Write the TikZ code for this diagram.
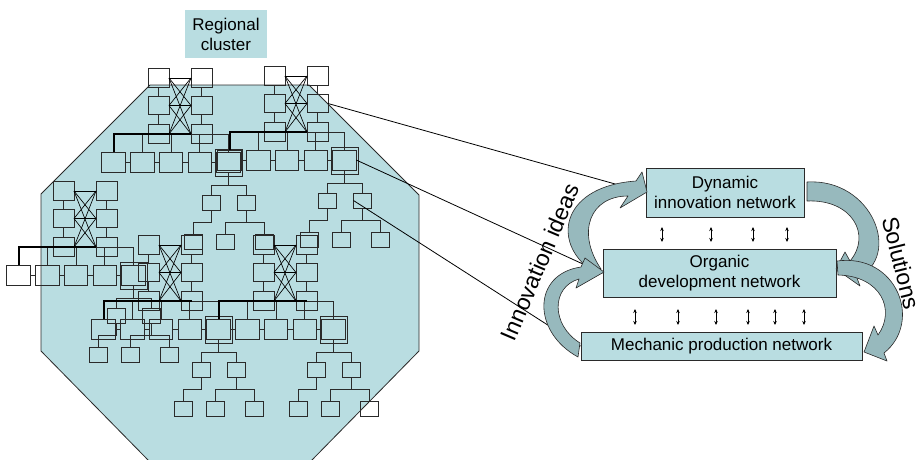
\documentclass[tikz,border=0pt]{standalone}
\usepackage{fontspec}
\setmainfont{Liberation Sans}
\usetikzlibrary{arrows.meta}
\definecolor{tealfill}{HTML}{B9DDE1}
\definecolor{arrfill}{HTML}{97B9BD}
\definecolor{ln}{HTML}{2A2A2A}
\tikzset{
  gbox/.style={draw=ln, line width=1pt, minimum width=21pt, minimum height=18.5pt, inner sep=0pt, outer sep=0pt},
  rbox/.style={gbox, minimum width=23.5pt, minimum height=20pt},
  tbox/.style={gbox, minimum width=18pt, minimum height=15pt},
  wire/.style={draw=ln, line width=1pt},
  xwire/.style={draw=black, line width=0.65pt},
  bus/.style={draw=black, line width=2pt},
  bigbox/.style={draw=ln, line width=1pt, fill=tealfill, align=center, font=\fontsize{17}{19.5}\selectfont, inner sep=0pt},
  blockarrow/.style={fill=arrfill, draw=ln, line width=0.6pt, line join=round},
  dbl/.style={{Stealth[length=4pt,width=3.5pt]}-{Stealth[length=4pt,width=3.5pt]}, line width=0.7pt},
  biglabel/.style={font=\fontsize{23}{27}\selectfont, inner sep=0pt}
}
\newcommand\motif[4]{%
\begin{scope}[shift={(#1,#2)}]
  \foreach \i/\y in {1/9,2/36.5,3/65}{
    \node[gbox] (#3-a\i) at (10.5,\y) {};
    \node[gbox] (#3-b\i) at (53.5,\y) {};
  }
  \draw[wire] (#3-a1) -- (#3-a2) -- (#3-a3);
  \draw[wire] (#3-b1) -- (#3-b2) -- (#3-b3);
  \foreach \i in {1,2,3}{\foreach \j in {1,2,3}{\draw[xwire] (#3-a\i.east) -- (#3-b\j.west);}}
  \foreach \k/\x in {1/-34.5,2/-5.75,3/23,4/51.75,5/80.5}{\node[rbox] (#3-r\k) at (\x,93) {};}
  \draw[wire] (#3-r1) -- (#3-r2) -- (#3-r3) -- (#3-r4) -- (#3-r5);
  \draw[wire] (67,80.5) rectangle (94,107.5);
  \draw[wire] (#3-b3.west) -| (#3-r5.north);
  \foreach \k in {2,3,4}{\draw[wire] (#3-r\k.north) -- (#3-r\k.north |- #3-a3.center);}
  \draw[bus] (#3-r1.north) |- (#3-b3.#4);
  \node[tbox] (#3-c1) at (63.5,133.5) {};
  \node[tbox] (#3-c2) at (98.5,133.5) {};
  \node[tbox] (#3-g1) at (45,172.5) {};
  \node[tbox] (#3-g2) at (77,172.5) {};
  \node[tbox] (#3-g3) at (116,172.5) {};
  \draw[wire] (#3-r5.south) -- (80.5,116);
  \draw[wire] (#3-c1.north) -- (63.5,116) -- (98.5,116) -- (#3-c2.north);
  \draw[wire] (#3-c1.south) -- (63.5,153) -- (45,153) -- (#3-g1.north);
  \draw[wire] (#3-c2.south) -- (98.5,153);
  \draw[wire] (#3-g2.north) -- (77,153) -- (116,153) -- (#3-g3.north);
\end{scope}}
\begin{document}
\begin{tikzpicture}[x=1pt,y=-1pt]
\useasboundingbox (0,0) rectangle (921,459);
% regional cluster
\fill[tealfill, draw=ln, line width=0.8pt] (150,85) -- (309,85) -- (419,195) -- (419,351) -- (310,462) -- (150,462) -- (41,351) -- (41,194) -- cycle;
\node[fill=tealfill, minimum width=82pt, minimum height=48pt, align=center, inner sep=0pt, font=\fontsize{17}{20}\selectfont] (rc) at (226,34) {Regional\\cluster};
\motif{148}{69}{A}{west}
\motif{264}{67}{B}{west}
\motif{53}{182}{E}{west}
\motif{138}{236}{C}{center}
\motif{253}{236}{D}{center}
% right side boxes
\node[bigbox, minimum width=158pt, minimum height=49pt] (dyn) at (725,192.5) {Dynamic\\innovation network};
\node[bigbox, minimum width=233pt, minimum height=48pt] (org) at (719.5,273) {Organic\\development network};
\node[bigbox, minimum width=281pt, minimum height=28pt] (mech) at (721.5,346) {Mechanic production network};
% connectors
\draw[line width=0.8pt] (B-b2.east) -- (dyn.west);
\draw[line width=0.8pt] (B-r5.east) -- (org.west);
\draw[line width=0.8pt] (B-c2.west) -- (mech.west);
% block arrows
\path[blockarrow] (587,267) .. controls (552,238) and (564,186) .. (636,181) -- (642,172) -- (647,192) -- (620,208) -- (628,196) .. controls (590,196) and (576,232) .. (601,269) -- cycle;
\path[blockarrow] (580,343) .. controls (551,325) and (551,287) .. (579,279) -- (576,288) -- (604,272) -- (585,258) -- (581,267) .. controls (532,274) and (532,332) .. (578,357) -- cycle;
\path[blockarrow] (807,182) .. controls (872,178) and (903,256) .. (857,278) -- (860,286) -- (836,269) -- (845,252) -- (850,261) .. controls (872,235) and (852,199) .. (807,201) -- cycle;
\path[blockarrow] (837,261) .. controls (897,253) and (923,322) .. (884,353) -- (887,361) -- (864,352) -- (874,326) -- (878,335) .. controls (896,310) and (881,276) .. (838,275) -- cycle;
% small double arrows
\foreach \x in {662,711,753,787}{\draw[dbl] (\x,227) -- (\x,242);}
\foreach \x in {635,678,716,748,775,804}{\draw[dbl] (\x,309) -- (\x,325);}
% labels
\node[biglabel, rotate=67] (ideas) at (540,262) {Innovation ideas};
\node[biglabel, rotate=-76] (sol) at (901,263) {Solutions};
\end{tikzpicture}
\end{document}
